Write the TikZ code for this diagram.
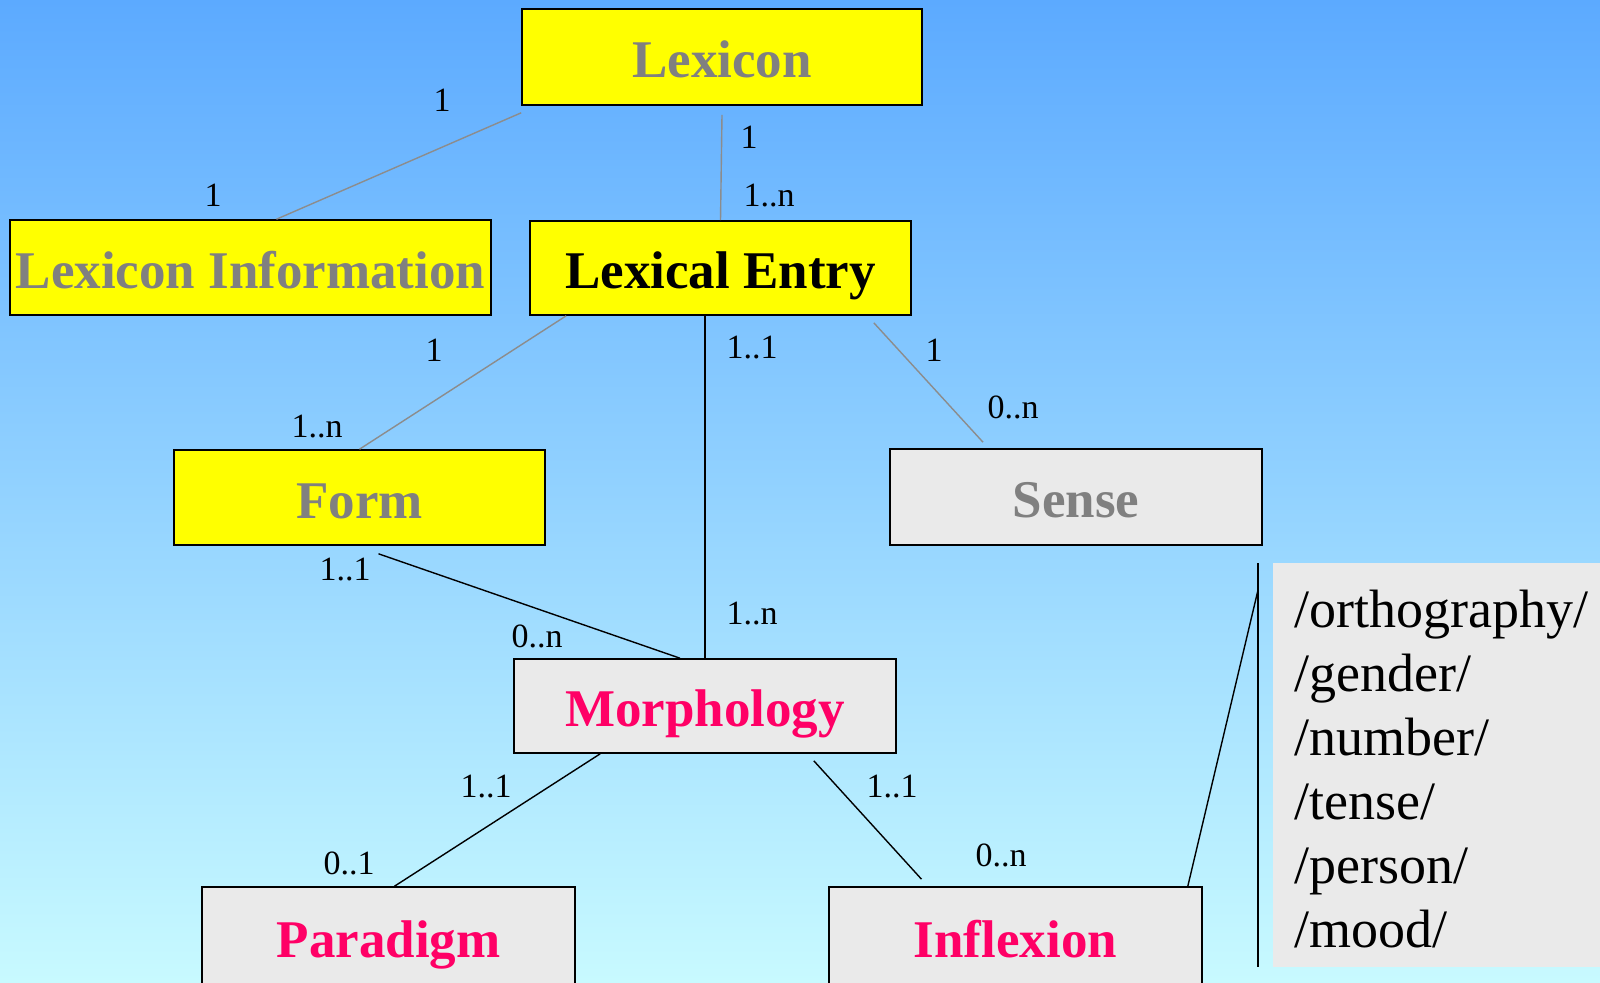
\documentclass[tikz,border=0pt]{standalone}
\usepackage{fontspec}
\setmainfont{Liberation Serif}
\usepackage{tikz}
\definecolor{skytop}   {RGB}{ 92, 170, 255}
\definecolor{skybot}   {RGB}{200, 250, 255}
\definecolor{boxyellow}{RGB}{255, 255,   0}
\definecolor{boxgray}  {RGB}{234, 234, 234}
\definecolor{namegray} {RGB}{128, 128, 128}
\definecolor{namepink} {RGB}{255,   0, 102}
\definecolor{linkgray} {RGB}{140, 140, 140}

\begin{document}
\begin{tikzpicture}[x=1pt, y=-1pt,
  entity/.style={draw=black, line width=1.6pt, inner sep=0pt,
                 text height=41pt, text depth=0pt,
                 font=\fontsize{53}{53}\selectfont\bfseries},
  ybox/.style={entity, fill=boxyellow},
  gbox/.style={entity, fill=boxgray},
  mult/.style={font=\fontsize{34}{34}\selectfont, inner sep=0pt},
  glink/.style={linkgray, line width=1.4pt},
  blink/.style={black, line width=1.4pt}]
  % page and background
  \useasboundingbox (0,0) rectangle (1600,982);
  \clip (0,0) rectangle (1600,982);
  \shade[top color=skytop, bottom color=skybot] (0,0) rectangle (1600,982);
  % entities
  \node[ybox, text=namegray, minimum width=400, minimum height=96] (lexicon) at (722,57) {Lexicon};
  \node[ybox, text=namegray, minimum width=481, minimum height=95] (lexinfo) at (250.5,267.5) {Lexicon Information};
  \node[ybox, text=black, minimum width=381, minimum height=94] (lexentry) at (720.5,268) {Lexical Entry};
  \node[ybox, text=namegray, minimum width=371, minimum height=95] (form) at (359.5,497.5) {Form};
  \node[gbox, text=namegray, minimum width=372, minimum height=96] (sense) at (1076,497) {Sense};
  \node[gbox, text=namepink, minimum width=382, minimum height=94] (morph) at (705,706) {Morphology};
  \node[gbox, text=namepink, minimum width=373, minimum height=100] (paradigm) at (388.5,937) {Paradigm};
  \node[gbox, text=namepink, minimum width=373, minimum height=100] (inflexion) at (1015.5,937) {Inflexion};
  % attribute list
  \node[fill=boxgray, inner sep=0pt, minimum width=327, minimum height=404] (attrs) at (1436.5,765) {};
  \node[anchor=west, align=left, inner sep=0pt, font=\fontsize{54}{64}\selectfont] (attrlist) at (1294,769)
    {/orthography/\\/gender/\\/number/\\/tense/\\/person/\\/mood/};
  \coordinate (brtop) at (1258,563);
  \coordinate (brbot) at (1258,967);
  \coordinate (brk) at (1258,590);
  % links
  \draw[glink] ([yshift=-7pt]lexicon.south west) -- ([xshift=26pt]lexinfo.north);
  \draw[glink] ([yshift=-9pt]lexicon.south) -- (lexentry.north);
  \draw[glink] ([xshift=37pt]lexentry.south west) -- (form.north);
  \draw[glink] ([xshift=-38pt,yshift=-7pt]lexentry.south east) -- ([xshift=-93pt,yshift=6pt]sense.north);
  \draw[blink] (morph.north |- lexentry.south) -- (morph.north);
  \draw[blink] ([xshift=19pt,yshift=-8pt]form.south) -- ([xshift=-25pt]morph.north);
  \draw[blink] ([xshift=87pt]morph.south west) -- ([xshift=6pt]paradigm.north);
  \draw[blink] ([xshift=-83pt,yshift=-7pt]morph.south east) -- ([xshift=-94pt,yshift=7pt]inflexion.north);
  \draw[blink] ([xshift=-15pt]inflexion.north east) -- (brk);
  \draw[blink] (brtop) -- (brbot);
  % multiplicities
  \node[mult] (m1)  at (442,100) {1};
  \node[mult] (m2)  at (213,195) {1};
  \node[mult] (m3)  at (749,137) {1};
  \node[mult] (m4)  at (769,196) {1..n};
  \node[mult] (m5)  at (434,350) {1};
  \node[mult] (m6)  at (317,427) {1..n};
  \node[mult] (m7)  at (752,348) {1..1};
  \node[mult] (m8)  at (934,350) {1};
  \node[mult] (m9)  at (1013,407) {0..n};
  \node[mult] (m10) at (345,570) {1..1};
  \node[mult] (m11) at (537,636) {0..n};
  \node[mult] (m12) at (752,614) {1..n};
  \node[mult] (m13) at (486,787) {1..1};
  \node[mult] (m14) at (892,787) {1..1};
  \node[mult] (m15) at (349,863) {0..1};
  \node[mult] (m16) at (1001,855) {0..n};
\end{tikzpicture}
\end{document}
